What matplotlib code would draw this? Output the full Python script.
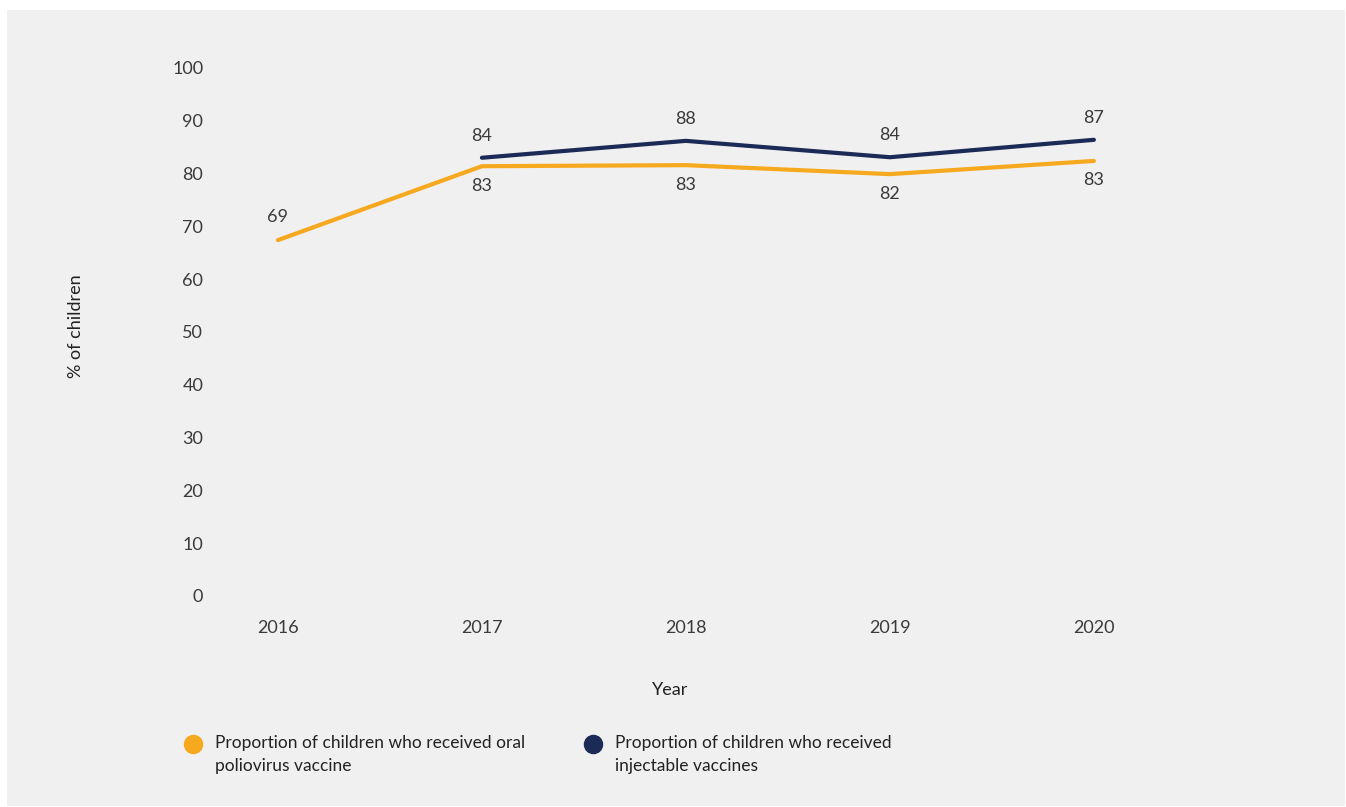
import matplotlib
matplotlib.use("Agg")
import matplotlib.pyplot as plt
from matplotlib.patches import Rectangle
from matplotlib.lines import Line2D

years = [2016, 2017, 2018, 2019, 2020]
oral = [67.4, 81.4, 81.6, 79.9, 82.4]
oral_labels = ["69", "83", "83", "82", "83"]
inj_years = [2017, 2018, 2019, 2020]
injectable = [83.0, 86.2, 83.1, 86.4]
inj_labels = ["84", "88", "84", "87"]
y_ticks = [0, 10, 20, 30, 40, 50, 60, 70, 80, 90, 100]
legend_labels = ["Proportion of children who received oral\npoliovirus vaccine",
                 "Proportion of children who received\ninjectable vaccines"]

ORANGE = "#F6A81F"
NAVY = "#1B2A57"
TEXT = "#3a3a3a"
BG = "#F0F0F0"

plt.rcParams["font.family"] = ["Lato", "DejaVu Sans"]

W, H = 1346, 807
fig = plt.figure(figsize=(W / 100, H / 100), dpi=100, facecolor="white")
fig.patches.append(Rectangle((7 / W, 1 / H), (1345 - 7) / W, (806 - 10) / H,
                             transform=fig.transFigure, facecolor=BG,
                             edgecolor="none", zorder=-10))

ax = fig.add_axes([220 / W, (H - 596) / H, 930 / W, (596 - 68) / H])
ax.set_facecolor("none")
ax.set_xlim(2015.716, 2020.275)
ax.set_ylim(0, 100)

ax.plot(years, oral, color=ORANGE, lw=3, solid_capstyle="round", solid_joinstyle="round")
ax.plot(inj_years, injectable, color=NAVY, lw=3, solid_capstyle="round", solid_joinstyle="round")

for i, (x, y, s) in enumerate(zip(years, oral, oral_labels)):
    dy = 17 if i == 0 else -14
    ax.annotate(s, (x, y), xytext=(0, dy), textcoords="offset points",
                ha="center", va="center", fontsize=13, color=TEXT)
for x, y, s in zip(inj_years, injectable, inj_labels):
    ax.annotate(s, (x, y), xytext=(0, 16), textcoords="offset points",
                ha="center", va="center", fontsize=13, color=TEXT)

ax.set_yticks(y_ticks)
ax.set_xticks(years)
ax.tick_params(axis="both", length=0, labelsize=13, labelcolor=TEXT)
ax.tick_params(axis="y", pad=12)
ax.tick_params(axis="x", pad=17)
for sp in ax.spines.values():
    sp.set_visible(False)

ax.set_xlabel("Year", fontsize=13, color="#222222", va="center")
ax.xaxis.set_label_coords((670 - 220) / 930, (596 - 690) / 528)
ax.set_ylabel("% of children", fontsize=13, color="#222222", va="center")
ax.yaxis.set_label_coords((76 - 220) / 930, (596 - 326) / 528)

# legend: marker next to the first line of each two-line label
colors = [ORANGE, NAVY]
legend_x = [193, 593]
for c, lx, lab in zip(colors, legend_x, legend_labels):
    fig.add_artist(Line2D([lx / W], [1 - 744 / H], transform=fig.transFigure,
                          marker="o", ls="none", color=c, markersize=13))
    fig.text((lx + 22) / W, 1 - 735 / H, lab, ha="left", va="top", fontsize=12.5,
             color="#222222", linespacing=1.5)

fig.savefig("out.png", dpi=100, facecolor="white")
